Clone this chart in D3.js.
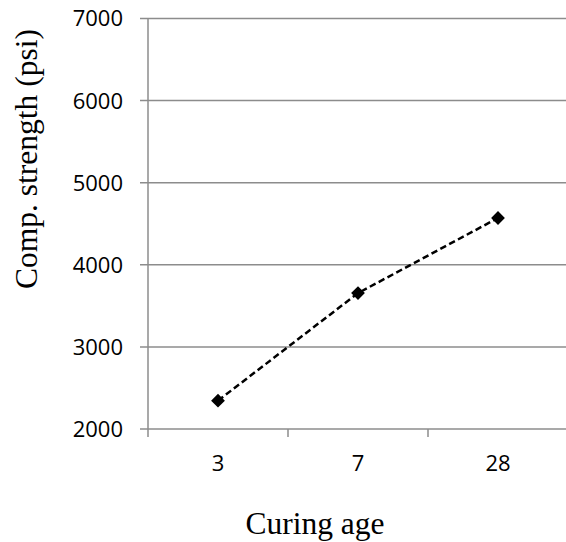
<!DOCTYPE html>
<html>
<head>
<meta charset="utf-8">
<script src="https://cdn.jsdelivr.net/npm/d3@7"></script>
<style>
  body { margin: 0; background: #fff; }
  .tick-label { font-family: "Open Sans", "Noto Sans", sans-serif; font-size: 22px; fill: #000; }
  .title { font-family: "Liberation Serif", "Times New Roman", serif; font-size: 31.5px; fill: #000; }
</style>
</head>
<body>
<svg id="chart" width="566" height="542"></svg>
<script>
const ages = ['3', '7', '28'];
const strength = [2345, 3655, 4570];
const yTicks = [2000, 3000, 4000, 5000, 6000, 7000];

const svg = d3.select('#chart');
const gridColor = '#8c8c8c';

const x = d3.scaleBand()
  .domain(ages)
  .range([148, 568])
  .padding(0);

const y = d3.scaleLinear()
  .domain([2000, 7000])
  .range([429, 18.5]);

// horizontal gridlines + y ticks
svg.selectAll('.grid')
  .data(yTicks)
  .enter().append('line')
  .attr('class', 'grid')
  .attr('x1', 140)
  .attr('x2', 568)
  .attr('y1', d => y(d))
  .attr('y2', d => y(d))
  .attr('stroke', gridColor)
  .attr('stroke-width', 1.5);

svg.selectAll('.ylabel')
  .data(yTicks)
  .enter().append('text')
  .attr('class', 'tick-label ylabel')
  .attr('x', 123)
  .attr('y', d => y(d))
  .attr('dy', '0.36em')
  .attr('text-anchor', 'end')
  .text(d => d);

// y axis line
svg.append('line')
  .attr('x1', 148).attr('x2', 148)
  .attr('y1', y(7000)).attr('y2', y(2000))
  .attr('stroke', gridColor)
  .attr('stroke-width', 1.5);

// x axis ticks at band edges
const edges = ages.map(d => x(d)).concat([x.range()[1]]);
svg.selectAll('.xtick')
  .data(edges)
  .enter().append('line')
  .attr('class', 'xtick')
  .attr('x1', d => d).attr('x2', d => d)
  .attr('y1', y(2000)).attr('y2', y(2000) + 8)
  .attr('stroke', gridColor)
  .attr('stroke-width', 1.5);

svg.selectAll('.xlabel')
  .data(ages)
  .enter().append('text')
  .attr('class', 'tick-label xlabel')
  .attr('x', d => x(d) + x.bandwidth() / 2)
  .attr('y', 470.5)
  .attr('text-anchor', 'middle')
  .text(d => d);

// data line
const pts = ages.map((a, i) => [x(a) + x.bandwidth() / 2, y(strength[i])]);

svg.append('path')
  .datum(pts)
  .attr('d', d3.line())
  .attr('fill', 'none')
  .attr('stroke', '#000')
  .attr('stroke-width', 2.5)
  .attr('stroke-dasharray', '6.5,3.5');

svg.selectAll('.marker')
  .data(pts)
  .enter().append('path')
  .attr('class', 'marker')
  .attr('d', d3.symbol(d3.symbolSquare, 60))
  .attr('transform', d => `translate(${d[0]},${d[1]}) rotate(45)`)
  .attr('fill', '#000')
  .attr('stroke', '#000')
  .attr('stroke-width', 2);

// axis titles
svg.append('text')
  .attr('class', 'title')
  .attr('x', 315)
  .attr('y', 534)
  .attr('text-anchor', 'middle')
  .text('Curing age');

svg.append('text')
  .attr('class', 'title')
  .attr('transform', 'translate(37,159) rotate(-90)')
  .attr('text-anchor', 'middle')
  .text('Comp. strength (psi)');
</script>
</body>
</html>
